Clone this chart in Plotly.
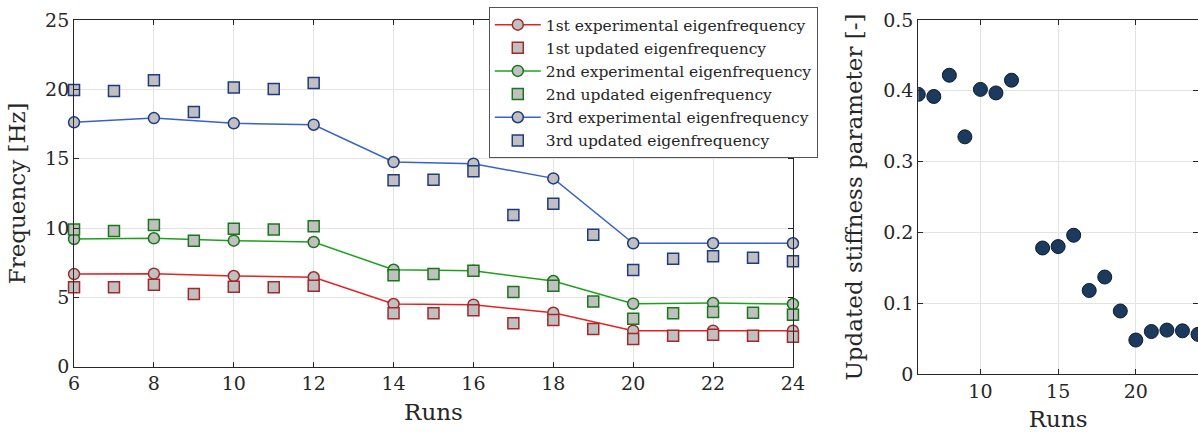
import plotly.graph_objects as go

# Runs
exp_runs = [6, 8, 10, 12, 14, 16, 18, 20, 22, 24]
upd_runs = [6, 7, 8, 9, 10, 11, 12, 14, 15, 16, 17, 18, 19, 20, 21, 22, 23, 24]

# Experimental eigenfrequencies [Hz]
exp_f1 = [6.68, 6.71, 6.54, 6.45, 4.52, 4.47, 3.89, 2.60, 2.60, 2.60]
exp_f2 = [9.21, 9.26, 9.09, 8.99, 6.99, 6.92, 6.18, 4.54, 4.59, 4.52]
exp_f3 = [17.62, 17.93, 17.55, 17.45, 14.76, 14.64, 13.58, 8.90, 8.90, 8.90]

# Updated (model) eigenfrequencies [Hz]
upd_f1 = [5.72, 5.72, 5.91, 5.24, 5.77, 5.72, 5.84, 3.85, 3.85, 4.07,
          3.13, 3.37, 2.72, 2.00, 2.24, 2.31, 2.24, 2.16]
upd_f2 = [9.90, 9.78, 10.22, 9.09, 9.95, 9.90, 10.12, 6.59, 6.68, 6.92,
          5.39, 5.84, 4.71, 3.46, 3.85, 3.94, 3.89, 3.75]
upd_f3 = [19.95, 19.88, 20.65, 18.36, 20.14, 20.02, 20.45, 13.44, 13.48, 14.09,
          10.94, 11.75, 9.52, 6.97, 7.79, 7.96, 7.86, 7.60]

# Updated stiffness parameter [-]
stiffness = [0.395, 0.392, 0.422, 0.335, 0.402, 0.397, 0.415, 0.178, 0.180, 0.196,
             0.118, 0.137, 0.089, 0.048, 0.060, 0.062, 0.061, 0.056]

x_ticks_left = [6, 8, 10, 12, 14, 16, 18, 20, 22, 24]
y_ticks_left = [0, 5, 10, 15, 20, 25]
x_ticks_right = [10, 15, 20]
y_ticks_right = [0, 0.1, 0.2, 0.3, 0.4, 0.5]
y_ticktext_right = ["0", "0.1", "0.2", "0.3", "0.4", "0.5"]

FONT = "DejaVu Serif"
FILL = "#c0c0c0"
modes = [
    ("1st", exp_f1, upd_f1, "#e32222", "#a3282a"),
    ("2nd", exp_f2, upd_f2, "#1ea01e", "#1a761a"),
    ("3rd", exp_f3, upd_f3, "#3a60cc", "#1f3a82"),
]

fig = go.Figure()
for name, ef, uf, line_c, edge_c in modes:
    fig.add_trace(go.Scatter(
        x=exp_runs, y=ef, mode="lines+markers",
        name=f"{name} experimental eigenfrequency",
        line=dict(color=line_c, width=1.5),
        marker=dict(symbol="circle", size=11, color=FILL,
                    line=dict(color=edge_c, width=1.5)),
        xaxis="x", yaxis="y", cliponaxis=False,
    ))
    fig.add_trace(go.Scatter(
        x=upd_runs, y=uf, mode="markers",
        name=f"{name} updated eigenfrequency",
        marker=dict(symbol="square", size=11, color=FILL,
                    line=dict(color=edge_c, width=1.5)),
        xaxis="x", yaxis="y", cliponaxis=False,
    ))

fig.add_trace(go.Scatter(
    x=upd_runs, y=stiffness, mode="markers", showlegend=False,
    marker=dict(symbol="circle", size=14, color="#1c3a5e",
                line=dict(color="#0d1a2a", width=1)),
    xaxis="x2", yaxis="y2",
))

axis_common = dict(
    showline=True, linecolor="#262626", linewidth=1, mirror="ticks",
    ticks="inside", ticklen=5, tickcolor="#262626",
    showgrid=True, gridcolor="#e3e3e3", gridwidth=1, zeroline=False,
    tickfont=dict(family=FONT, size=19, color="#262626"),
    automargin=False,
)
title_font = dict(family=FONT, size=23, color="#262626")

fig.update_layout(
    width=1198, height=441,
    margin=dict(l=0, r=0, t=0, b=0),
    paper_bgcolor="white", plot_bgcolor="white",
    font=dict(family=FONT, color="#262626"),
    xaxis=dict(domain=[0.0618, 0.6619], range=[6, 24], tickvals=x_ticks_left,
               title=dict(text="Runs", font=title_font, standoff=10),
               anchor="y", **axis_common),
    yaxis=dict(domain=[0.1685, 0.9546], range=[0, 25], tickvals=y_ticks_left,
               title=dict(text="Frequency [Hz]", font=title_font, standoff=12),
               anchor="x", **axis_common),
    xaxis2=dict(domain=[0.7665, 1.0], range=[6, 24], tickvals=x_ticks_right,
                title=dict(text="Runs", font=title_font, standoff=10),
                anchor="y2", **axis_common),
    yaxis2=dict(domain=[0.1519, 0.9546], range=[0, 0.5], tickvals=y_ticks_right,
                ticktext=y_ticktext_right,
                title=dict(text="Updated stiffness parameter [-]",
                           font=title_font, standoff=14),
                anchor="x2", **axis_common),
    legend=dict(
        x=0.408, y=0.984, xanchor="left", yanchor="top",
        bgcolor="white", bordercolor="#555555", borderwidth=1,
        font=dict(family=FONT, size=15.5, color="#262626"),
        itemwidth=46, tracegroupgap=0,
    ),
)

fig.write_html("out.html")
